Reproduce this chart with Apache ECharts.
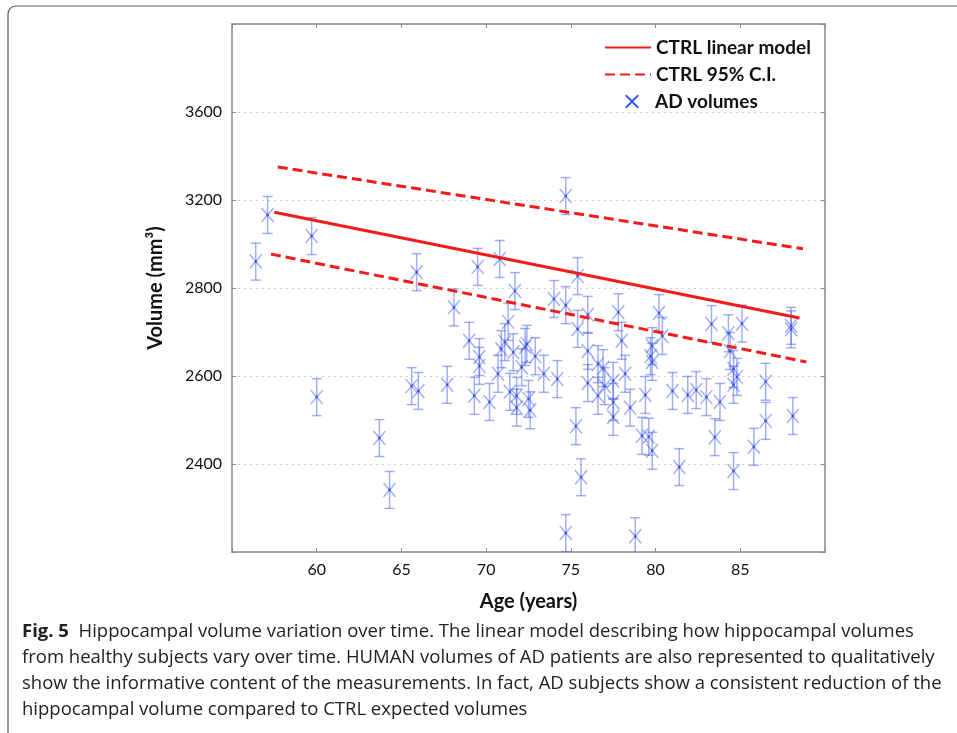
<!DOCTYPE html>
<html>
<head>
<meta charset="utf-8">
<style>
html,body{margin:0;padding:0;background:#fff;}
#chart{width:957px;height:733px;}
</style>
<script src="https://cdn.jsdelivr.net/npm/echarts@6/dist/echarts.min.js"></script>
</head>
<body>
<div id="chart"></div>
<script>
// AD subjects: age (years) and hippocampal volume (plot scale units)
const AGES = [56.4,57.1,59.7,60.0,63.7,64.3,65.6,66.0,65.9,67.7,68.1,69.0,69.5,69.6,69.6,69.3,70.2,70.8,70.7,70.9,71.1,71.3,71.7,71.6,71.4,71.8,71.8,72.3,72.4,72.1,72.9,72.5,72.6,73.4,74.2,74.0,74.7,74.7,75.4,75.4,76.0,76.0,76.6,76.9,76.0,76.6,77.0,77.5,77.5,77.5,78.2,78.5,75.3,75.6,74.7,78.8,77.8,78.0,80.2,80.4,79.8,79.8,79.7,79.4,79.2,79.6,79.8,81.0,81.4,81.9,82.4,83.0,83.3,83.5,83.8,84.3,84.4,84.6,84.8,84.6,84.6,85.1,85.8,86.5,86.5,88.0,88.0,88.1];
const VOLUMES = [2860,2966,2918,2552,2459,2341,2577,2566,2836,2580,2756,2680,2848,2643,2623,2555,2541,2866,2605,2661,2677,2723,2793,2654,2564,2555,2528,2666,2673,2620,2645,2548,2522,2605,2593,2775,2761,3009,2827,2707,2739,2657,2627,2618,2584,2555,2577,2589,2541,2507,2605,2528,2486,2370,2243,2236,2745,2680,2743,2691,2668,2632,2645,2557,2464,2462,2430,2566,2393,2557,2568,2552,2718,2461,2541,2697,2657,2616,2598,2580,2384,2719,2439,2587,2498,2714,2706,2509];
const ERR_HALF = 42;

// CTRL linear model and 95% C.I. end points
const FIT_X = [57.5, 88.5];
const FIT_Y = [2972, 2732];
const CI_UP_X = [57.7, 88.7];
const CI_UP_Y = [3075, 2889];
const CI_LO_X = [57.3, 88.9];
const CI_LO_Y = [2877, 2632];

// Axis ticks
const X_TICKS = [60, 65, 70, 75, 80, 85];
const Y_TICK_VALUES = [2400, 2600, 2800, 3000, 3200];
const Y_TICK_LABELS = ['2400', '2600', '2800', '3200', '3600'];

const CAPTION = [
  '{b|Fig. 5}  Hippocampal volume variation over time. The linear model describing how hippocampal volumes',
  'from healthy subjects vary over time. HUMAN volumes of AD patients are also represented to qualitatively',
  'show the informative content of the measurements. In fact, AD subjects show a consistent reduction of the',
  'hippocampal volume compared to CTRL expected volumes'
];

const FONT = 'Lato, "Open Sans", sans-serif';
const chart = echarts.init(document.getElementById('chart'));

const scatterData = AGES.map((a, i) => [a, VOLUMES[i], ERR_HALF]);
const pairs = (xs, ys) => xs.map((x, i) => [x, ys[i]]);

const BLUE = 'rgba(70,95,235,0.5)';

function renderItem(params, api) {
  const x = api.value(0), y = api.value(1), e = api.value(2);
  const c = api.coord([x, y]);
  const top = api.coord([x, y + e]);
  const bot = api.coord([x, y - e]);
  const cw = 5, xw = 6, xh = 7;
  const st = { stroke: BLUE, lineWidth: 1.5, fill: null };
  return {
    type: 'group',
    children: [
      { type: 'line', shape: { x1: c[0], y1: top[1], x2: c[0], y2: bot[1] }, style: st },
      { type: 'line', shape: { x1: c[0] - cw, y1: top[1], x2: c[0] + cw, y2: top[1] }, style: st },
      { type: 'line', shape: { x1: c[0] - cw, y1: bot[1], x2: c[0] + cw, y2: bot[1] }, style: st },
      { type: 'line', shape: { x1: c[0] - xw, y1: c[1] - xh, x2: c[0] + xw, y2: c[1] + xh }, style: st },
      { type: 'line', shape: { x1: c[0] - xw, y1: c[1] + xh, x2: c[0] + xw, y2: c[1] - xh }, style: st },
      { type: 'circle', shape: { cx: c[0], cy: c[1], r: 1.3 }, style: { fill: 'rgba(50,70,230,0.8)' } }
    ]
  };
}

const X_ICON = 'path://M1,0 L5,4 L9,0 L10,1 L6,5 L10,9 L9,10 L5,6 L1,10 L0,9 L4,5 L0,1 Z';

const axisGray = '#8a8a8a';
const legendText = { fontFamily: FONT, fontSize: 19, color: '#111', fontWeight: 'bold' };

const option = {
  backgroundColor: '#fff',
  animation: false,
  grid: { left: 232, right: 132, top: 24, bottom: 181, containLabel: false },
  legend: [
    {
      orient: 'vertical', left: 599, top: 33, itemWidth: 46, itemHeight: 14, itemGap: 8,
      data: ['CTRL linear model', 'CTRL 95% C.I.'],
      itemStyle: { opacity: 0 },
      textStyle: legendText,
      selectedMode: false
    },
    {
      orient: 'vertical', left: 620, top: 87, itemWidth: 14, itemHeight: 14,
      data: [{ name: 'AD volumes', icon: X_ICON, itemStyle: { color: '#3558e6' } }],
      textStyle: Object.assign({}, legendText, { padding: [0, 0, 0, 11] }),
      selectedMode: false
    }
  ],
  xAxis: [
    {
      type: 'value', min: 55, max: 90, interval: 5,
      name: 'Age (years)', nameLocation: 'middle', nameGap: 40,
      nameTextStyle: { fontFamily: FONT, fontSize: 20, fontWeight: 'bold', color: '#111' },
      axisLine: { show: true, lineStyle: { color: axisGray, width: 1.5 } },
      axisTick: { show: true, inside: true, length: 4, lineStyle: { color: axisGray } },
      axisLabel: {
        fontFamily: FONT, fontSize: 16, color: '#111', margin: 10,
        formatter: v => X_TICKS.includes(v) ? String(v) : ''
      },
      splitLine: { show: false }
    },
    {
      type: 'value', min: 55, max: 90, interval: 5, position: 'top',
      axisLine: { show: true, lineStyle: { color: axisGray, width: 1.5 } },
      axisTick: { show: true, inside: true, length: 4, lineStyle: { color: axisGray } },
      axisLabel: { show: false }, splitLine: { show: false }
    }
  ],
  yAxis: [
    {
      type: 'value', min: 2200, max: 3400, interval: 200,
      name: 'Volume (mm³)', nameLocation: 'middle', nameGap: 66,
      nameTextStyle: { fontFamily: FONT, fontSize: 20, fontWeight: 'bold', color: '#111' },
      axisLine: { show: true, lineStyle: { color: axisGray, width: 1.5 } },
      axisTick: { show: true, inside: true, length: 4, lineStyle: { color: axisGray } },
      axisLabel: {
        fontFamily: FONT, fontSize: 16, color: '#111', margin: 10,
        formatter: v => { const i = Y_TICK_VALUES.indexOf(v); return i >= 0 ? Y_TICK_LABELS[i] : ''; }
      },
      splitLine: { show: true, lineStyle: { color: '#d0d0d0', type: [2, 4], width: 1 } }
    },
    {
      type: 'value', min: 2200, max: 3400, interval: 200, position: 'right',
      axisLine: { show: true, lineStyle: { color: axisGray, width: 1.5 } },
      axisTick: { show: true, inside: true, length: 4, lineStyle: { color: axisGray } },
      axisLabel: { show: false }, splitLine: { show: false }
    }
  ],
  series: [
    {
      name: 'AD volumes', type: 'custom', renderItem, clip: true,
      itemStyle: { color: '#3558e6' },
      encode: { x: 0, y: 1 }, data: scatterData, z: 2
    },
    {
      name: 'CTRL linear model', type: 'line', data: pairs(FIT_X, FIT_Y),
      symbol: 'none', lineStyle: { color: '#f51b1b', width: 3 }, itemStyle: { color: '#f51b1b' }, z: 5
    },
    {
      name: 'CTRL 95% C.I.', type: 'line', data: pairs(CI_UP_X, CI_UP_Y),
      symbol: 'none', lineStyle: { color: '#f51b1b', width: 3, type: [10, 5] }, itemStyle: { color: '#f51b1b' }, z: 5
    },
    {
      name: 'CTRL 95% C.I.', type: 'line', data: pairs(CI_LO_X, CI_LO_Y),
      symbol: 'none', lineStyle: { color: '#f51b1b', width: 3, type: [10, 5] }, itemStyle: { color: '#f51b1b' }, z: 5
    }
  ],
  graphic: [
    {
      type: 'rect', shape: { x: 8, y: 6, width: 1200, height: 1200, r: 8 },
      style: { fill: null, stroke: '#555', lineWidth: 1.2 }, silent: true
    }
  ].concat(CAPTION.map((t, i) => ({
    type: 'text', left: 22, top: 622 + i * 26,
    style: {
      text: t, fill: '#222', font: '18.5px "Open Sans", sans-serif',
      rich: { b: { fontWeight: 'bold', fontSize: 18.5, fontFamily: '"Open Sans", sans-serif', fill: '#222' } }
    }
  })))
};

chart.setOption(option);
</script>
</body>
</html>
